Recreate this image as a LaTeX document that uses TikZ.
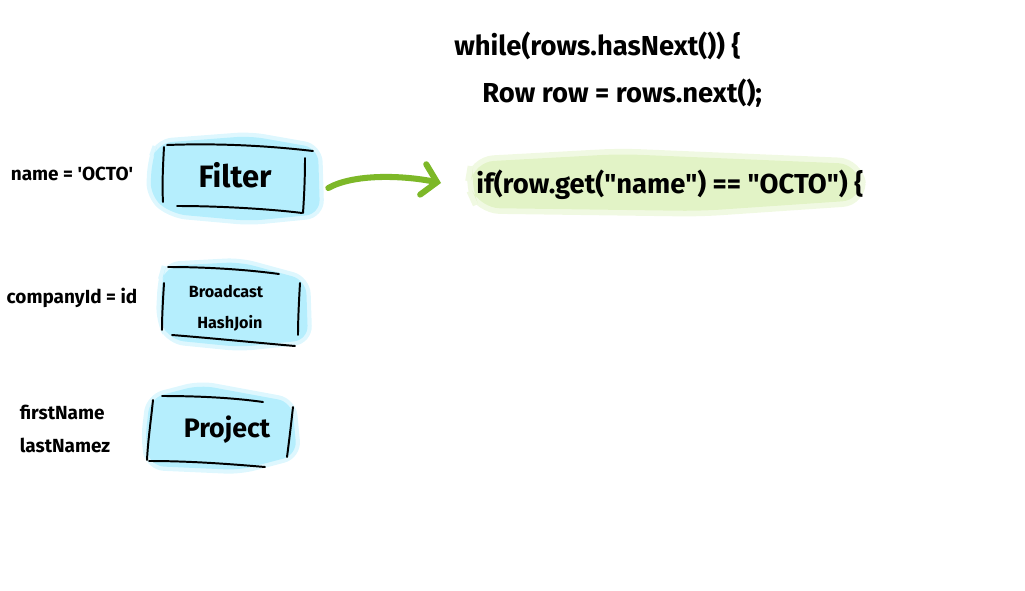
\documentclass[tikz,border=0pt]{standalone}
\usepackage{fontspec}
\setmainfont{Fira Sans}[Ligatures=TeXOff]
\usetikzlibrary{positioning,arrows.meta,calc}
\definecolor{markblue}{HTML}{B5EEFD}
\definecolor{markgreen}{HTML}{E2F3C6}
\definecolor{arrowgreen}{HTML}{7DB828}

\tikzset{
    sketch/.style={line width=1.4pt, line cap=round, black},
    blueblob/.style={fill=markblue, draw=markblue, line width=6pt, draw opacity=0.45, rounded corners=10pt},
    greenblob/.style={fill=markgreen, draw=markgreen, line width=8pt, draw opacity=0.5, rounded corners=14pt},
    oplabel/.style={font=\bfseries\fontsize{13.5}{15}\selectfont, align=center, inner sep=0pt},
    opname/.style={font=\bfseries\fontsize{19}{20}\selectfont, inner sep=0pt, minimum width=3.5cm},
    opsmall/.style={font=\bfseries\fontsize{11.5}{22}\selectfont, align=center, inner sep=0pt, minimum width=3.5cm},
    code/.style={anchor=west, inner sep=0pt, font=\bfseries\fontsize{19.5}{20}\selectfont},
    flow/.style={arrowgreen, line width=4.3pt, line cap=round,
        -{Straight Barb[length=10pt, width=22pt, line width=4.3pt, line cap=round]}}
}

\begin{document}
\begin{tikzpicture}[x=0.025cm, y=-0.025cm]

    \useasboundingbox (0,0) rectangle (1025,591);

    % Marker highlights behind the operators and the code line
    \path[blueblob] (158,143) -- (250,136) -- (318,148) -- (320,214) -- (250,221) -- (172,214) -- (150,196) -- (152,160) -- cycle;
    \path[blueblob] (166,266) -- (240,262) -- (306,280) -- (308,340) -- (240,347) -- (170,340) -- (160,320) -- (162,280) -- cycle;
    \path[blueblob] (150,398) -- (200,385) -- (292,402) -- (297,455) -- (240,470) -- (150,466) -- (145,440) -- cycle;
    \path[greenblob] (474,162) -- (620,154) -- (858,164) -- (862,200) -- (700,211) -- (480,208) -- (470,186) -- cycle;

    % Operators
    \node[opname, font=\bfseries\fontsize{22}{24}\selectfont] (filter) at (235,175) {Filter};
    \node[opsmall] (join) at (226,308) {Broadcast\\\hspace{0.2cm}HashJoin};
    \node[opname] (project) at (227,430) {Project};

    % Hand-drawn frames
    \draw[sketch] (164,147) .. controls (163,165) and (162,185) .. (163,202);
    \draw[sketch] (167,145) .. controls (220,143) and (270,146) .. (313,151);
    \draw[sketch] (305,158) .. controls (305,180) and (304,198) .. (303,213);
    \draw[sketch] (177,206) .. controls (220,206) and (270,209) .. (302,213);

    \draw[sketch] (168,267) .. controls (210,267) and (250,270) .. (279,274);
    \draw[sketch] (164,283) .. controls (163,300) and (162,315) .. (162,330);
    \draw[sketch] (300,283) .. controls (299,300) and (298,320) .. (298,335);
    \draw[sketch] (172,335) .. controls (210,338) and (260,343) .. (295,346);

    \draw[sketch] (162,396) .. controls (200,396) and (235,398) .. (263,402);
    \draw[sketch] (153,400) .. controls (151,420) and (148,440) .. (147,460);
    \draw[sketch] (293,407) .. controls (291,425) and (289,442) .. (287,457);
    \draw[sketch] (149,461) .. controls (190,461) and (230,464) .. (265,467);

    % Predicates of the operators
    \node[oplabel] (namecond) at (72,174) {name = 'OCTO'};
    \node[oplabel] (joincond) at (72,298) {companyId = id};
    \node[oplabel, align=left] (columns) at (65,429) {firstName\\[9pt]lastNamez};

    % Generated code
    \node[code] (whileline) at (454,46) {while(rows.hasNext()) \{};
    \node[code] (rowline) at (482,93) {Row row = rows.next();};
    \node[code] (ifcode) at (476,185) {if(row.get("name") == "OCTO") \{};

    % Filter turns into the if statement
    \draw[flow] ($(filter.east)+(23,13)$) .. controls +(25,-14) and +(-40,-8) .. ($(ifcode.west)+(-35,-2)$);

\end{tikzpicture}
\end{document}
